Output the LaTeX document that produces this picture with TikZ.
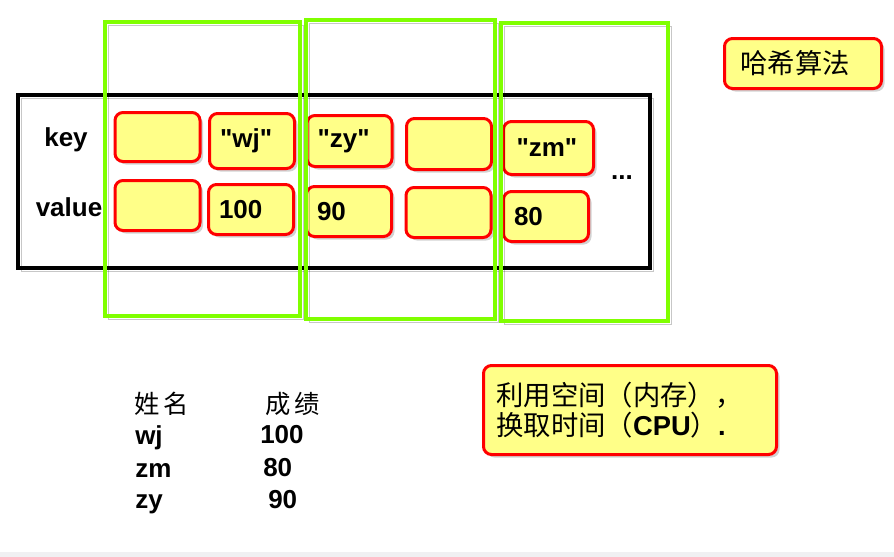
\documentclass[tikz,border=0pt]{standalone}
\usepackage{fontspec}
\setmainfont{Liberation Sans}
\newfontfamily\cjk{Noto Sans CJK SC}
\usepackage{tikz}
\usetikzlibrary{shadows,positioning}
\definecolor{cellyellow}{HTML}{FFFF88}
\definecolor{bucketgreen}{HTML}{80FF00}
\definecolor{pagegray}{HTML}{F0F0F2}
\newdimen\px
\px=0.75pt

\tikzset{
  cell/.style={draw=red, fill=cellyellow, line width=3\px, rounded corners=8\px,
    drop shadow={shadow xshift=3\px, shadow yshift=-3\px, opacity=0.35},
    inner xsep=10\px, text width=64\px, align=left,
    minimum width=85\px, minimum height=51\px,
    font=\bfseries\fontsize{19.5}{23}\selectfont},
  frameshadow/.style={preaction={draw=black, draw opacity=0.22,
    transform canvas={shift={(3,3)}}}},
  table/.style={draw=black, line width=4\px, frameshadow},
  bucket/.style={draw=bucketgreen, line width=4.5\px, frameshadow},
  rowlabel/.style={font=\bfseries\fontsize{19.5}{23}\selectfont},
  entry/.style={anchor=base west, inner sep=0pt, font=\bfseries\fontsize{19.5}{23}\selectfont},
  heading/.style={anchor=base west, inner sep=0pt, font=\cjk\fontsize{19}{22}\selectfont}
}
\newcommand{\qt}[1]{\textquotedbl#1\textquotedbl}

\begin{document}
\begin{tikzpicture}[x=0.75pt, y=-0.75pt]
  \fill[white] (0,0) rectangle (894,557);
  \fill[pagegray] (0,552) rectangle (894,557);
  \useasboundingbox (0,0) rectangle (894,557);

  % hash table
  \draw[table] (18,95) rectangle (650,268);
  \node[rowlabel] (keylbl) at (66,140) {key};
  \node[rowlabel] (vallbl) at (69,207) {value};

  \node[cell, minimum height=49\px] (k1) at (157.5,137) {};
  \node[cell, minimum height=55\px] (k2) at (252,141) {\qt{wj}};
  \node[cell] (k3) at (349.5,141) {\qt{zy}};
  \node[cell] (k4) at (449,144) {};
  \node[cell, minimum width=90\px, minimum height=53\px] (k5) at (548.5,148) {\qt{zm}};

  \node[cell, minimum height=50\px] (v1) at (157.5,205.5) {};
  \node[cell, minimum height=50\px] (v2) at (251,209.5) {100};
  \node[cell, minimum height=50\px] (v3) at (349,211.5) {90};
  \node[cell, minimum height=50\px] (v4) at (448.5,212.5) {};
  \node[cell, minimum height=50\px] (v5) at (546,216.5) {80};

  \node[rowlabel] (more) at (622,178) {...};

  % buckets
  \draw[bucket] (105,22) rectangle (300,316);
  \draw[bucket] (306,20) rectangle (495,319);
  \draw[bucket] (501,23) rectangle (668,321);

  \node[cell, minimum width=157\px, minimum height=50\px, text width=125\px,
    inner xsep=15\px, font=\cjk\fontsize{20.5}{22}\selectfont] (hash) at (803,63.5) {哈希算法};

  % scores
  \node[heading] (name) at (134,413) {姓\,名};
  \node[heading] (score) at (265,413) {成\,绩};
  \node[entry] (wj) at (135,444) {wj};
  \node[entry] (wjscore) at (260,443) {100};
  \node[entry] (zm) at (135,477) {zm};
  \node[entry] (zmscore) at (263,476) {80};
  \node[entry] (zy) at (135,508) {zy};
  \node[entry] (zyscore) at (268,508) {90};

  \node[cell, minimum width=293\px, minimum height=89\px, text width=267\px,
    inner xsep=13\px, font=\cjk\fontsize{20.5}{22.5}\selectfont] (memo) at (630,410)
    {利用空间（内存），\\换取时间（{\normalfont\bfseries CPU}）{\normalfont\bfseries .}};
\end{tikzpicture}
\end{document}
